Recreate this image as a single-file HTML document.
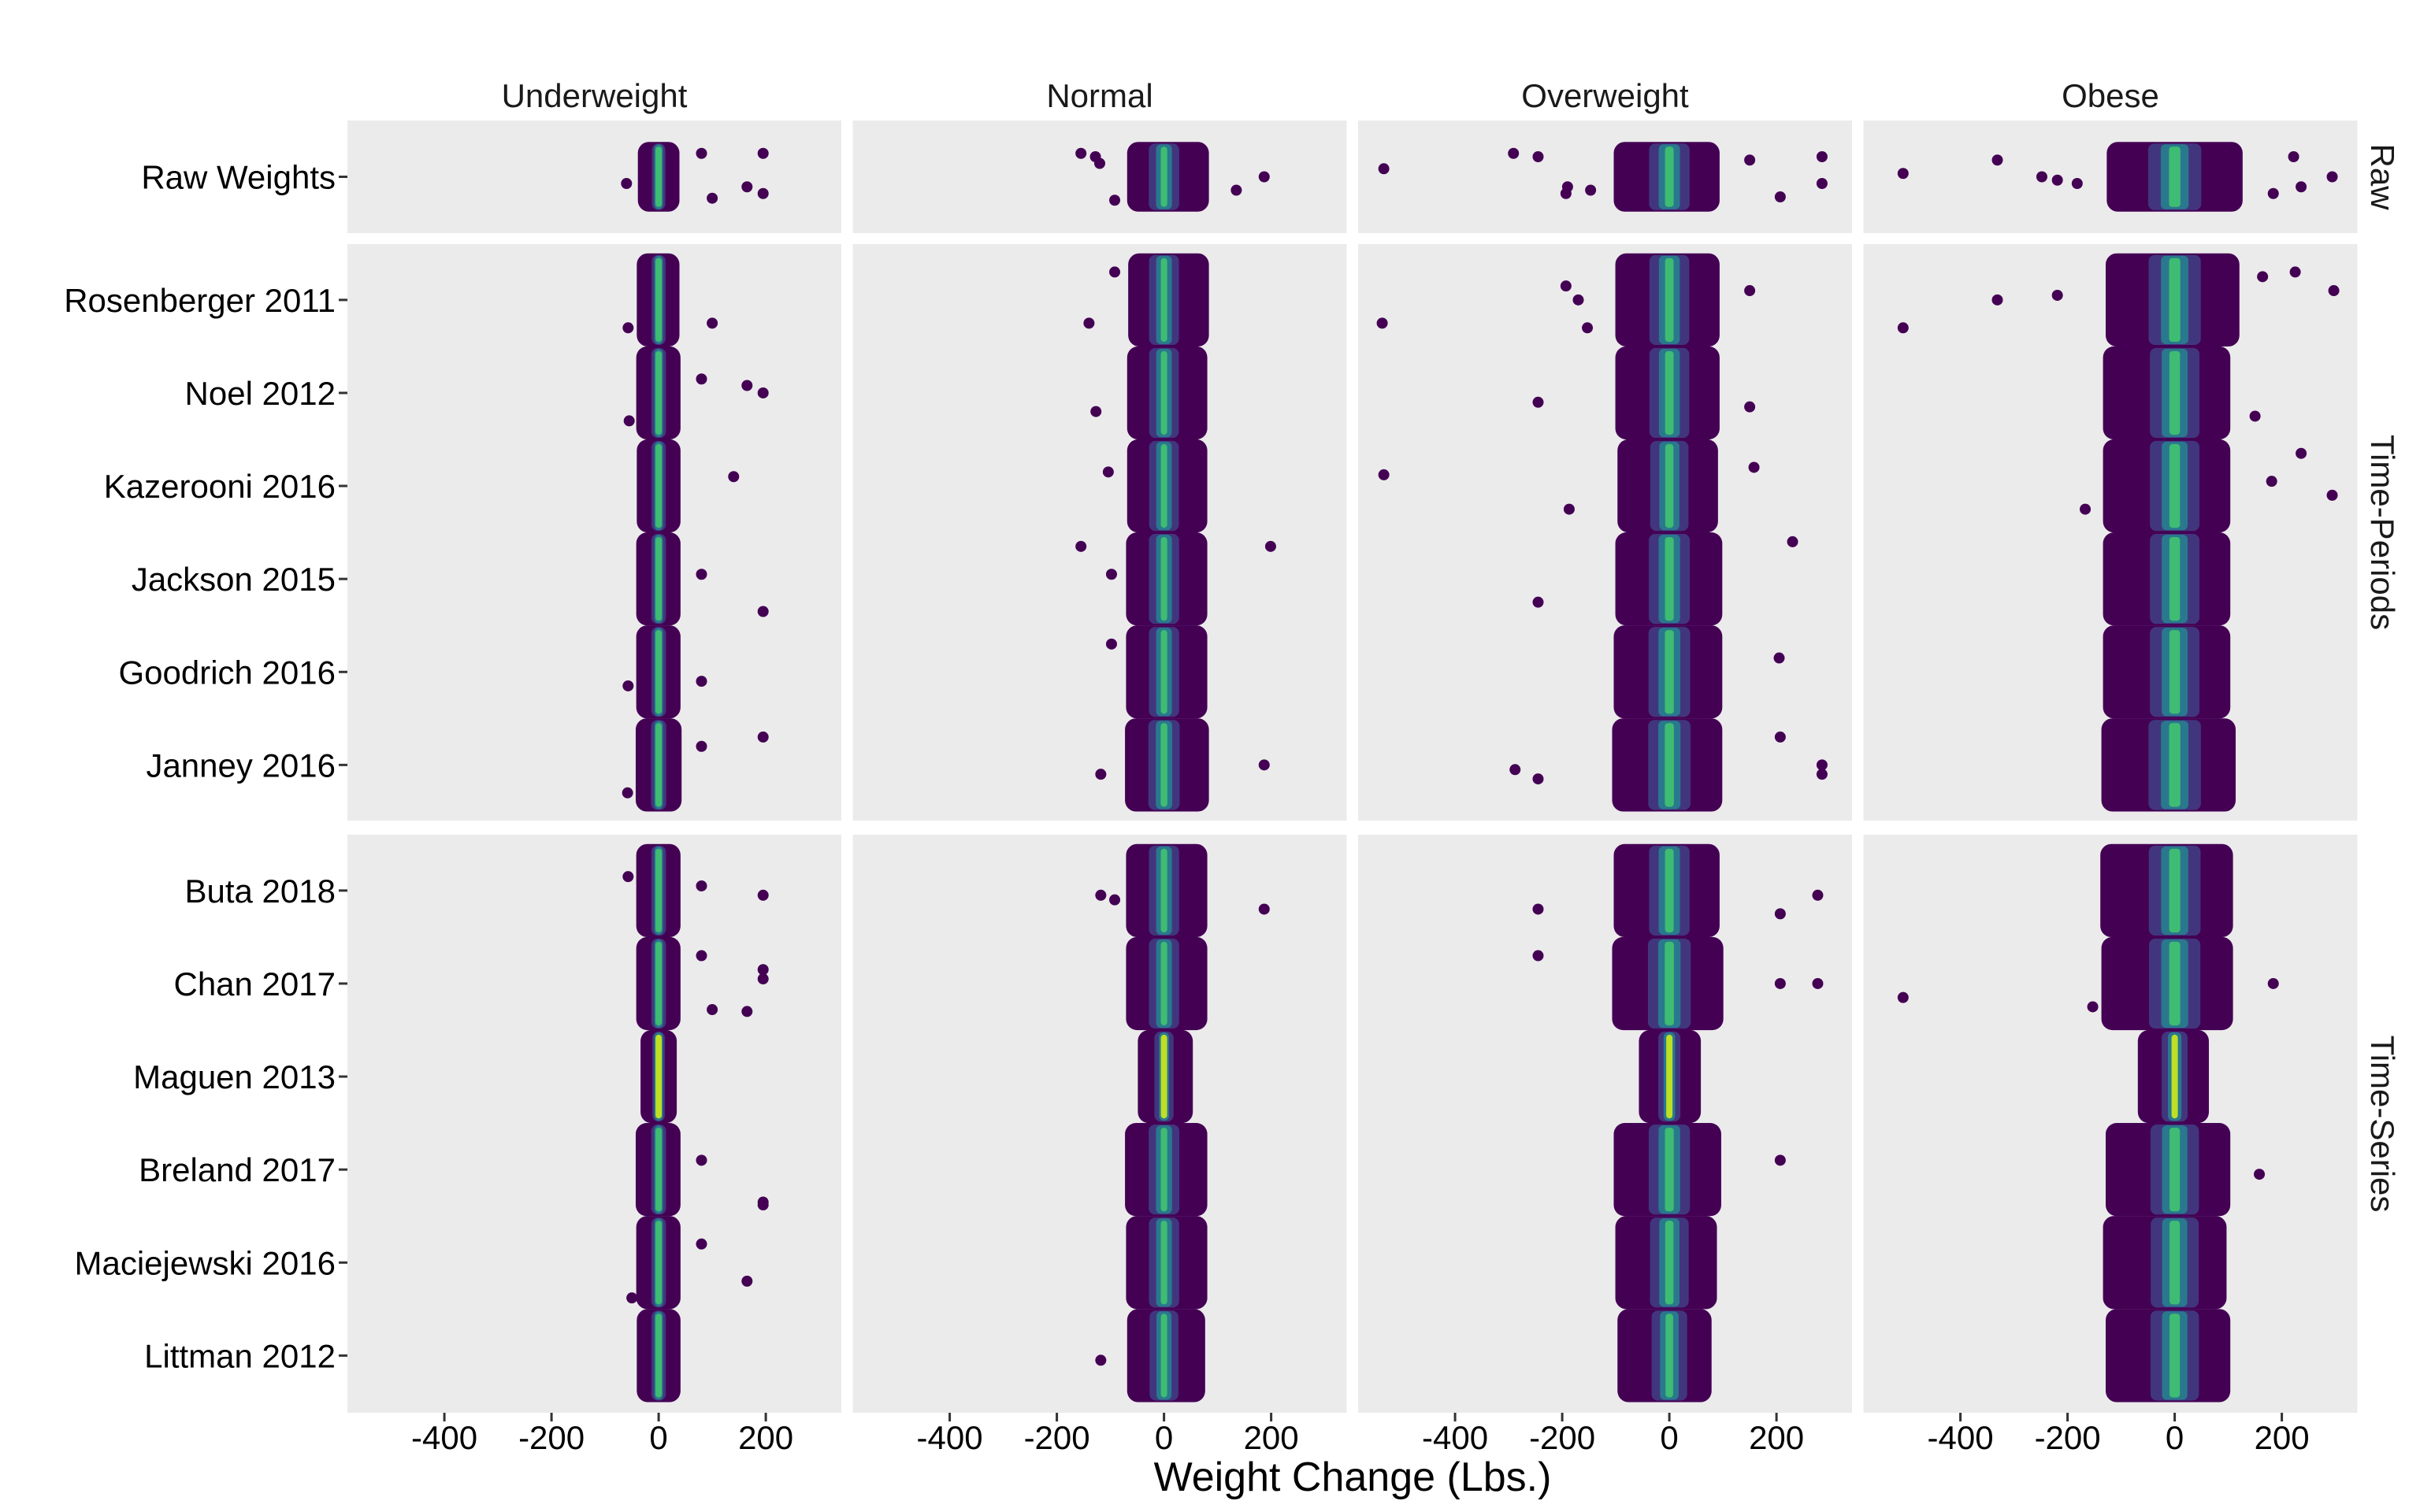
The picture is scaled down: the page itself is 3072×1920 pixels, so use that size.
<!DOCTYPE html>
<html><head><meta charset="utf-8"><style>
html,body{margin:0;padding:0;background:#fff;}
svg{display:block;font-family:"Liberation Sans",Arial,sans-serif;}
</style></head><body>
<svg id="chart" width="3072" height="1920" viewBox="0 0 3072 1920" xmlns="http://www.w3.org/2000/svg">
<g id="panels"></g>
<g id="marks"></g>
<g id="labels"></g>
</svg>
<script>
const columns = ["Underweight","Normal","Overweight","Obese"];
const rowLabels = ["Raw Weights","Rosenberger 2011","Noel 2012","Kazerooni 2016","Jackson 2015","Goodrich 2016","Janney 2016","Buta 2018","Chan 2017","Maguen 2013","Breland 2017","Maciejewski 2016","Littman 2012"];
const groups = ["Raw","Time-Periods","Time-Series"];
const xTicks = [-400,-200,0,200];
// core cloud extent (lbs) per column, per row
const coreLo = [
 [-30,-32,-33,-32,-33,-33,-34,-33,-33,-25,-34,-33,-32],
 [-60,-58,-60,-60,-62,-62,-64,-62,-62,-40,-64,-62,-60],
 [-95,-92,-92,-88,-92,-95,-98,-95,-98,-48,-95,-92,-88],
 [-118,-120,-125,-125,-125,-125,-128,-130,-128,-60,-120,-125,-120]];
const coreHi = [
 [30,30,32,32,32,32,34,32,32,25,32,32,32],
 [75,75,72,72,72,72,75,72,72,45,72,72,68],
 [85,85,85,82,90,90,90,85,92,50,88,80,70],
 [118,112,95,95,95,95,105,100,100,55,95,88,95]];
// outliers: column, row, value (lbs), jitter (row units)
const outCol = [0,0,0,0,0,0, 0,0, 0,0,0,0, 0, 0,0, 0,0, 0,0,0, 0,0,0, 0,0,0,0,0, 0,0,0, 0,0,0,
 1,1,1,1,1,1, 1,1, 1, 1, 1,1,1, 1, 1,1, 1,1,1, 1,
 2,2,2,2,2,2,2,2,2,2, 2,2,2,2,2, 2,2, 2,2,2, 2,2, 2, 2,2,2,2,2, 2,2,2, 2,2,2, 2,
 3,3,3,3,3,3,3,3,3, 3,3,3,3,3,3, 3, 3,3,3,3, 3,3,3, 3];
const outRow = [0,0,0,0,0,0, 1,1, 2,2,2,2, 3, 4,4, 5,5, 6,6,6, 7,7,7, 8,8,8,8,8, 10,10,10, 11,11,11,
 0,0,0,0,0,0, 1,1, 2, 3, 4,4,4, 5, 6,6, 7,7,7, 12,
 0,0,0,0,0,0,0,0,0,0, 1,1,1,1,1, 2,2, 3,3,3, 4,4, 5, 6,6,6,6,6, 7,7,7, 8,8,8, 10,
 0,0,0,0,0,0,0,0,0, 1,1,1,1,1,1, 2, 3,3,3,3, 8,8,8, 10];
const outVal = [80,195,165,195,100,-60, 100,-57, 80,165,195,-55, 140, 80,195, 80,-57, 80,195,-58, 80,195,-57, 80,195,195,165,100, 80,195,195, 80,165,-50,
 -155,-120,-128,187,135,-92, -92,-140, -127, -104, -155,199,-98, -98, -118,187, -118,187,-92, -118,
 -533,-291,-245,-193,-190,-147,285,285,207,150, -536,-193,-153,-170,150, -245,150, -533,-187,158, -245,230, 205, -288,-245,285,207,285, -245,277,207, -245,277,207, 207,
 -507,-331,-248,-219,-182,222,236,294,184, -507,-331,-219,225,297,164, 150, 236,181,294,-167, -507,184,-153, 158];
const outJit = [-0.35,-0.35,0.15,0.25,0.32,0.1, 0.25,0.3, -0.15,-0.08,0.0,0.3, -0.1, -0.05,0.35, 0.1,0.15, -0.2,-0.3,0.3, -0.05,0.05,-0.15, -0.3,-0.15,-0.05,0.3,0.28, -0.1,0.35,0.38, -0.2,0.2,0.38,
 -0.35,-0.2,-0.3,0.0,0.2,0.35, -0.3,0.25, 0.2, -0.15, -0.35,-0.35,-0.05, -0.3, 0.1,0.0, 0.05,0.2,0.1, 0.05,
 -0.12,-0.35,-0.3,0.25,0.15,0.2,-0.3,0.1,0.3,-0.25, 0.25,-0.15,0.3,0.0,-0.1, 0.1,0.15, -0.12,0.25,-0.2, 0.25,-0.4, -0.15, 0.05,0.15,0.0,-0.3,0.1, 0.2,0.05,0.25, -0.3,0.0,0.0, -0.1,
 -0.05,-0.25,0.0,0.05,0.1,-0.3,0.15,0.0,0.25, 0.3,0.0,-0.05,-0.3,-0.1,-0.25, 0.25, -0.35,-0.05,0.1,0.25, 0.15,0.0,0.25, 0.05];

const NS="http://www.w3.org/2000/svg";
const panelsG=document.getElementById('panels'), marksG=document.getElementById('marks'), labG=document.getElementById('labels');
function mk(tag,attrs,parent){const e=document.createElementNS(NS,tag);for(const k in attrs)e.setAttribute(k,attrs[k]);parent.appendChild(e);return e;}
const panelLeft = c => 441 + c*641.5;
const panelW = 627;
const xMin=-581, xMax=341;
function xScale(c,v){return panelLeft(c)+(v-xMin)/(xMax-xMin)*panelW;}
const groupTop=[153,310,1060], groupBot=[296,1042,1794];
const groupRows=[[0],[1,2,3,4,5,6],[7,8,9,10,11,12]];
const unit=118.1;
function rowGroup(r){return r===0?0:(r<=6?1:2);}
function yScale(r,j){
  const g=rowGroup(r);
  if(g===0) return (groupTop[0]+groupBot[0])/2 + j*unit*0.72;
  const idx=groupRows[g].indexOf(r);
  return groupTop[g]+(0.6+idx)*unit + j*unit;
}
for(let c=0;c<4;c++){
  for(let g=0;g<3;g++){
    const p=mk('rect',{x:panelLeft(c),y:groupTop[g],width:panelW,height:groupBot[g]-groupTop[g],fill:'#ebebeb'},panelsG);
    
    
  }
  const t=mk('text',{x:panelLeft(c)+panelW/2,y:136,'font-size':42,'text-anchor':'middle',fill:'#1a1a1a'},labG);
  t.textContent=columns[c];
  
  
  xTicks.forEach(v=>{
    const x=xScale(c,v);
    const tk=mk('line',{x1:x,x2:x,y1:1794,y2:1805,stroke:'#333','stroke-width':3},labG);
    
    
    const tl=mk('text',{x:x,y:1840,'font-size':42,'text-anchor':'middle',fill:'#000'},labG);
    tl.textContent=v;
    
    
  });
}
const gLabelY=[224.5,676,1427];
groups.forEach((g,i)=>{
  const t=mk('text',{x:0,y:0,'font-size':42,'text-anchor':'middle',fill:'#1a1a1a',transform:'translate(3010,'+gLabelY[i]+') rotate(90)'},labG);
  t.textContent=g;
  
  
});
rowLabels.forEach((lab,r)=>{
  const y=yScale(r,0);
  const tk=mk('line',{x1:430,x2:441,y1:y,y2:y,stroke:'#333','stroke-width':3},labG);
  
  
  const t=mk('text',{x:426,y:y+15,'font-size':42,'text-anchor':'end',fill:'#000'},labG);
  t.textContent=lab;
  
  
});
const xt=mk('text',{x:1717,y:1893,'font-size':52,'text-anchor':'middle',fill:'#000'},labG);
xt.textContent='Weight Change (Lbs.)';


for(let c=0;c<4;c++){
  for(let r=0;r<13;r++){
    const x0=xScale(c,coreLo[c][r]), x1=xScale(c,coreHi[c][r]), xc=xScale(c,0);
    const yTop=yScale(r,-0.45), yBot=yScale(r,0.45);
    const h=yBot-yTop+12;
    const g=mk('g',{},marksG);
    
    
    const w=x1-x0+12;
    mk('rect',{x:x0-6,y:yTop-6,width:w,height:h,rx:14,fill:'#440154'},g);
    const lw=Math.max(16,(x1-x0)*0.42), lo2=Math.max(11,(x1-x0)*0.22), lo3=Math.max(8,(x1-x0)*0.09);
    mk('rect',{x:xc-lw/2,y:yTop-4,width:lw,height:h-4,rx:8,fill:'#414487',opacity:0.8},g);
    mk('rect',{x:xc-lo2/2,y:yTop-3,width:lo2,height:h-6,rx:6,fill:'#2a788e'},g);
    mk('rect',{x:xc-lo3/2,y:yTop,width:lo3,height:h-12,rx:4,fill:r===9?'#bddf26':'#3fbc73'},g);
  }
}
for(let i=0;i<outVal.length;i++){
  const c=outCol[i], r=outRow[i];
  const pt=mk('circle',{cx:xScale(c,outVal[i]),cy:yScale(r,outJit[i]),r:7,fill:'#440154'},marksG);
  
  
}
</script>
</body></html>
